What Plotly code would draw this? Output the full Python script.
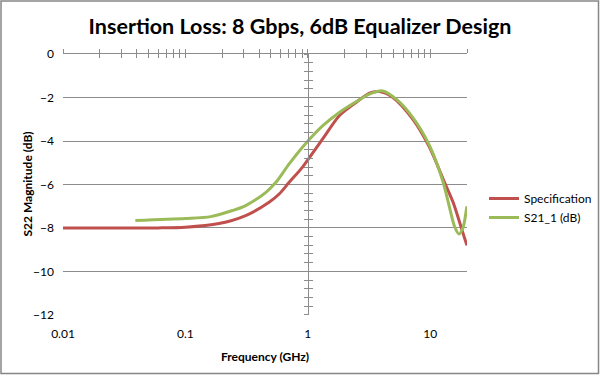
import numpy as np
import plotly.graph_objects as go

# ---- data ----
spec_freq = [0.01, 0.03, 0.06, 0.1, 0.188, 0.311, 0.483, 0.584, 0.705, 0.906, 1.32, 1.81, 2.48, 3.19, 3.85, 4.96, 7.2, 9.9, 13.1, 15.4, 17.4, 19.8, 20.0]
spec_db = [-8.0, -8.0, -8.0, -7.97, -7.8, -7.43, -6.82, -6.44, -5.9, -5.2, -3.91, -2.83, -2.22, -1.79, -1.72, -1.99, -2.99, -4.3, -5.9, -6.82, -7.74, -8.74, -8.8]

s21_freq = [0.039, 0.1, 0.161, 0.242, 0.311, 0.455, 0.549, 0.705, 0.966, 1.32, 1.81, 2.48, 3.19, 4.1, 5.28, 7.2, 9.9, 12.7, 14.5, 15.9, 17.2, 18.6, 19.8, 20.0]
s21_db = [-7.66, -7.57, -7.48, -7.2, -6.97, -6.36, -5.9, -5.05, -4.1, -3.3, -2.68, -2.19, -1.84, -1.69, -2.07, -2.91, -4.22, -5.85, -7.13, -7.97, -8.28, -7.97, -7.13, -7.0]

series_names = ["Specification", "S21_1 (dB)"]
x_tick_vals = [0.01, 0.1, 1, 10]
x_tick_text = ["0.01", "0.1", "1", "10"]
y_range = [-12, 0]
x_range_ghz = [0.01, 20]

# ---- style ----
RED = "#C0504D"
GREEN = "#9BBB59"
GRID = "#8C8C8C"
FONT = "Lato"

W, H = 600, 375
ML, MR, MT, MB = 63, 133, 54, 60
pw, ph = W - ML - MR, H - MT - MB

fig = go.Figure()
fig.add_trace(go.Scatter(x=spec_freq, y=spec_db, mode="lines", name=series_names[0],
                         line=dict(color=RED, width=3, shape="spline", smoothing=0.8)))
fig.add_trace(go.Scatter(x=s21_freq, y=s21_db, mode="lines", name=series_names[1],
                         line=dict(color=GREEN, width=3, shape="spline", smoothing=0.8)))

# invisible helper traces so the overlay axes (axis lines with crossing ticks) get drawn
for xa, ya in [("x2", "y"), ("x3", "y"), ("x", "y2"), ("x", "y3")]:
    fig.add_trace(go.Scatter(x=[None], y=[None], xaxis=xa, yaxis=ya, showlegend=False,
                             hoverinfo="skip", mode="lines"))

xr = [np.log10(x_range_ghz[0]), np.log10(x_range_ghz[1])]
eps = 0.012
yr = [y_range[0] - eps, y_range[1] + eps]

x_ticks_all = [m * 10.0 ** e for e in range(-2, 2) for m in range(1, 10) if m * 10.0 ** e <= x_range_ghz[1] + 1e-9]
y_ticks_all = list(np.round(np.arange(y_range[0], y_range[1] + 0.001, 0.4), 2))

cross_pos = (0 - xr[0]) / (xr[1] - xr[0])  # position of 1 GHz on paper

common_x = dict(type="log", range=xr, showgrid=False, zeroline=False, automargin=False)
line_style = dict(showline=True, linecolor=GRID, linewidth=1, ticklen=4, tickcolor=GRID, tickwidth=1,
                  showticklabels=False)
fig.update_layout(
    template="none",
    width=W, height=H,
    margin=dict(l=ML, r=MR, t=MT, b=MB, autoexpand=False),
    paper_bgcolor="white", plot_bgcolor="white",
    font=dict(family=FONT, size=12, color="#000000"),
    title=dict(text="<b>Insertion Loss: 8 Gbps, 6dB Equalizer Design</b>",
               x=0.5, xanchor="center", y=1 - 26 / H, yanchor="middle",
               font=dict(family=FONT, size=21.5, color="#000000")),
    xaxis=dict(**common_x, tickvals=x_tick_vals, ticktext=x_tick_text, showline=False, ticks="",
               ticklabelstandoff=10,
               title=dict(text="<b>Frequency (GHz)</b>", font=dict(size=12)),
               tickfont=dict(size=12)),
    xaxis2=dict(**common_x, **line_style, overlaying="x", anchor="y", side="top", ticks="outside",
                tickvals=x_ticks_all),
    xaxis3=dict(**common_x, **line_style, overlaying="x", anchor="y", side="top", ticks="inside",
                tickvals=x_ticks_all),
    yaxis=dict(range=yr, tickvals=list(range(-12, 1, 2)), showgrid=True, gridcolor=GRID, gridwidth=1,
               zeroline=False, showline=False, ticks="", tickfont=dict(size=12), ticklabelstandoff=8,
               automargin=False),
    yaxis2=dict(range=yr, **line_style, automargin=False, overlaying="y", anchor="free",
                position=cross_pos, side="left", ticks="outside", tickvals=y_ticks_all,
                showgrid=False, zeroline=False),
    yaxis3=dict(range=yr, **line_style, automargin=False, overlaying="y", anchor="free",
                position=cross_pos, side="left", ticks="inside", tickvals=y_ticks_all,
                showgrid=False, zeroline=False),
    legend=dict(x=(484 - ML) / pw, y=(H - MB - 184) / ph,
                xanchor="left", yanchor="top", font=dict(size=12), bgcolor="rgba(0,0,0,0)",
                tracegroupgap=0, itemwidth=30),
    showlegend=True,
)

# y-axis title placed as rotated text
fig.add_annotation(text="<b>S22 Magnitude (dB)</b>", xref="paper", yref="paper",
                   x=(27 - ML) / pw, y=0.5, xanchor="center", yanchor="middle",
                   textangle=-90, showarrow=False, font=dict(family=FONT, size=12, color="#000000"))

# outer chart border
fig.add_shape(type="rect", xref="paper", yref="paper",
              x0=(-ML + 1) / pw, x1=(W - ML - 1.5) / pw, y0=(-MB + 1.5) / ph, y1=(H - MB - 1) / ph,
              line=dict(color="#868686", width=1.5), fillcolor="rgba(0,0,0,0)", layer="below")

fig.write_html("out.html", config={"displayModeBar": False},
               post_script="document.body.style.margin='0';document.body.style.padding='0';")
